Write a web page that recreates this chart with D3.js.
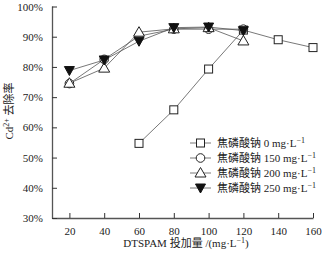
<!DOCTYPE html>
<html>
<head>
<meta charset="utf-8">
<script src="https://cdn.jsdelivr.net/npm/d3@7"></script>
<style>
body { margin: 0; background: #fff; }
text { font-family: "Liberation Serif", "Noto Sans CJK SC", serif; fill: #222; }
</style>
</head>
<body>
<div id="chart"></div>
<script>
var width = 333;
var height = 260;

var xTicks = [20, 40, 60, 80, 100, 120, 140, 160];
var yTicks = [0.3, 0.4, 0.5, 0.6, 0.7, 0.8, 0.9, 1.0];

var seriesNames = ["焦磷酸钠 0 mg·L", "焦磷酸钠 150 mg·L", "焦磷酸钠 200 mg·L", "焦磷酸钠 250 mg·L"];
var s0x = [60, 80, 100, 120, 140, 160];
var s0 = [0.547, 0.658, 0.793, 0.922, 0.890, 0.864];
var s1x = [20, 40, 60, 80, 100, 120];
var s1 = [0.745, 0.825, 0.902, 0.925, 0.925, 0.925];
var s2 = [0.746, 0.796, 0.915, 0.926, 0.930, 0.886];
var s3 = [0.788, 0.823, 0.885, 0.930, 0.932, 0.920];
var markers = ["square", "circle", "triangle", "down"];

var xScale = d3.scaleLinear().domain([10, 160]).range([52, 313]);
var yScale = d3.scaleLinear().domain([0.3, 1.0]).range([218, 6.5]);

var svg = d3.select("#chart").append("svg")
    .attr("width", width).attr("height", height);

var seriesList = [
  {xs: s0x, ys: s0, m: markers[0], name: seriesNames[0]},
  {xs: s1x, ys: s1, m: markers[1], name: seriesNames[1]},
  {xs: s1x, ys: s2, m: markers[2], name: seriesNames[2]},
  {xs: s1x, ys: s3, m: markers[3], name: seriesNames[3]}
];

function drawMarker(g, type, x, y) {
  if (type == "square") {
    g.append("rect").attr("x", x - 4).attr("y", y - 4).attr("width", 8).attr("height", 8)
      .attr("fill", "#fff").attr("stroke", "#222").attr("stroke-width", 1);
  } else if (type == "circle") {
    g.append("circle").attr("cx", x).attr("cy", y).attr("r", 4.3)
      .attr("fill", "#fff").attr("stroke", "#222").attr("stroke-width", 1);
  } else if (type == "triangle") {
    g.append("path").attr("d", "M" + x + "," + (y - 5.5) + "L" + (x + 5.5) + "," + (y + 4) + "L" + (x - 5.5) + "," + (y + 4) + "Z")
      .attr("fill", "#fff").attr("stroke", "#222").attr("stroke-width", 1);
  } else {
    g.append("path").attr("d", "M" + (x - 5) + "," + (y - 4) + "L" + (x + 5) + "," + (y - 4) + "L" + x + "," + (y + 5) + "Z")
      .attr("fill", "#111").attr("stroke", "#111").attr("stroke-width", 1);
  }
}

// axes
var xAxis = d3.axisBottom(xScale).tickValues(xTicks).tickSizeInner(-5).tickSizeOuter(0).tickPadding(9);
var yAxis = d3.axisLeft(yScale).tickValues(yTicks).tickSizeInner(-5).tickSizeOuter(0).tickPadding(9)
    .tickFormat(function(d) { return Math.round(d * 100) + "%"; });

var gx = svg.append("g").attr("transform", "translate(0,218)").call(xAxis);
var gy = svg.append("g").attr("transform", "translate(52,0)").call(yAxis);
[gx, gy].forEach(function(g) {
  g.select(".domain").attr("stroke", "#555").attr("stroke-width", 1.3);
  g.selectAll(".tick line").attr("stroke", "#333");
  g.selectAll(".tick text").style("font-size", "11px").attr("fill", "#222");
});
gy.select(".domain").attr("d", "M0.5," + yScale(1.0) + "V" + 218.5);

// lines
var line = d3.line().x(function(d) { return xScale(d[0]); }).y(function(d) { return yScale(d[1]); });
seriesList.forEach(function(s) {
  var pts = s.xs.map(function(x, i) { return [x, s.ys[i]]; });
  svg.append("path").datum(pts).attr("d", line)
    .attr("fill", "none").attr("stroke", "#555").attr("stroke-width", 0.8);
});
seriesList.forEach(function(s) {
  var g = svg.append("g");
  s.xs.forEach(function(x, i) { drawMarker(g, s.m, xScale(x), yScale(s.ys[i])); });
});

// legend
seriesList.forEach(function(s, i) {
  var y = 143 + i * 15;
  var g = svg.append("g");
  g.append("line").attr("x1", 190).attr("x2", 211).attr("y1", y).attr("y2", y)
    .attr("stroke", "#555").attr("stroke-width", 0.8);
  drawMarker(g, s.m, 200.5, y);
  var t = g.append("text").attr("x", 217).attr("y", y + 4).style("font-size", "11px");
  t.append("tspan").text(s.name);
  t.append("tspan").attr("dy", -4).style("font-size", "8px").text("−1");
});

// axis titles
var xt = svg.append("text").attr("x", 186).attr("y", 247).attr("text-anchor", "middle").style("font-size", "11px");
xt.append("tspan").text("DTSPAM 投加量 /(mg·L");
xt.append("tspan").attr("dy", -4).style("font-size", "8px").text("−1");
xt.append("tspan").attr("dy", 4).text(")");

var yt = svg.append("text").attr("transform", "translate(13,111) rotate(-90)").attr("text-anchor", "middle").style("font-size", "11px");
yt.append("tspan").text("Cd");
yt.append("tspan").attr("dy", -4).style("font-size", "8px").text("2+");
yt.append("tspan").attr("dy", 4).text(" 去除率");
</script>
</body>
</html>
